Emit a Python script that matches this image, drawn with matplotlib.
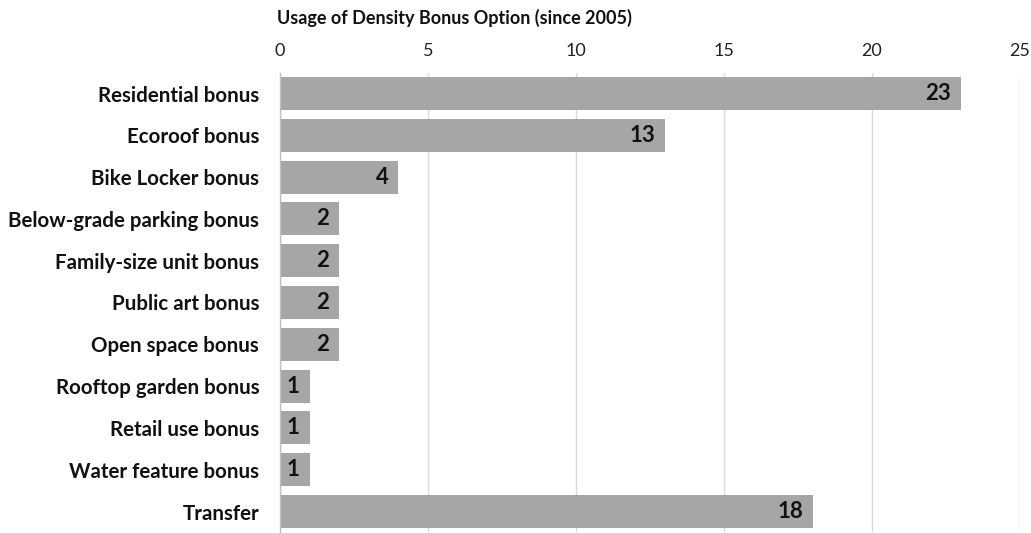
import matplotlib
matplotlib.use("Agg")
import matplotlib.pyplot as plt
from matplotlib.ticker import MultipleLocator

categories = ["Residential bonus", "Ecoroof bonus", "Bike Locker bonus",
              "Below-grade parking bonus", "Family-size unit bonus",
              "Public art bonus", "Open space bonus", "Rooftop garden bonus",
              "Retail use bonus", "Water feature bonus", "Transfer"]
values = [23, 13, 4, 2, 2, 2, 2, 1, 1, 1, 18]
title = "Usage of Density Bonus Option (since 2005)"

plt.rcParams['font.family'] = ['Lato', 'DejaVu Sans']

fig = plt.figure(figsize=(10.31, 5.33), dpi=100)
ax = fig.add_axes([280/1031, 1 - 532.4/533, (1020-280)/1031, (532.4-72.6)/533])

y = list(range(len(categories)))
ax.barh(y, values, height=0.79, color="#A6A6A6", zorder=2)
for yi, v in zip(y, values):
    ax.annotate(str(v), (v, yi), xytext=(-7, 0), textcoords="offset points",
                ha="right", va="center", fontsize=16, fontweight="bold",
                color="#111111", zorder=3)

ax.set_xlim(0, 25)
ax.set_ylim(len(categories) - 0.5, -0.5)
ax.xaxis.set_major_locator(MultipleLocator(5))
ax.xaxis.tick_top()
ax.tick_params(axis="x", length=0, labelsize=13, colors="#222222", pad=10)
ax.tick_params(axis="y", length=0, pad=15)
ax.set_yticks(y)
ax.set_yticklabels(categories, fontsize=14.8, fontweight="bold", color="#111111")
ax.grid(axis="x", color="#D9D9D9", linewidth=1, zorder=0)
for s in ["top", "right", "bottom"]:
    ax.spines[s].set_visible(False)
ax.spines["left"].set_color("#BFBFBF")
ax.spines["left"].set_linewidth(1)

fig.text(277/1031, 1 - 18/533, title, ha="left", va="center",
         fontsize=13, fontweight="bold", color="#111111")

fig.savefig("out.png", dpi=100)
